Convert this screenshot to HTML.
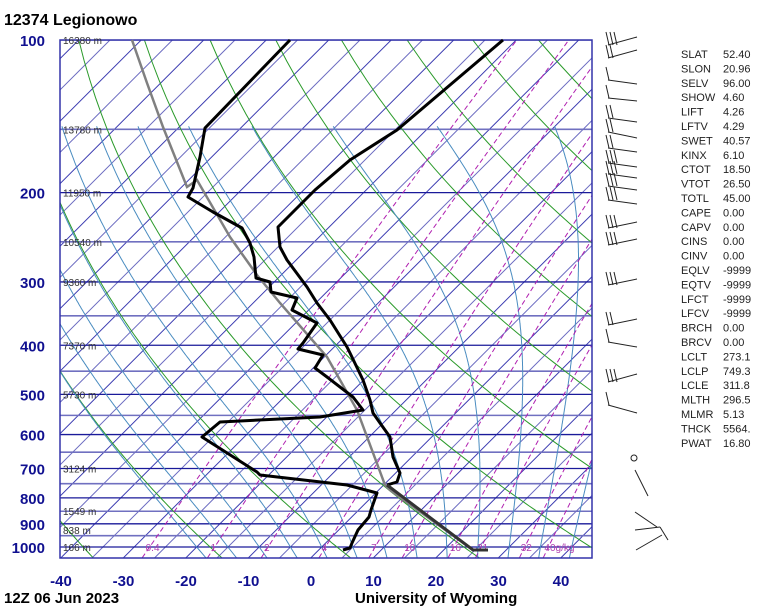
<!DOCTYPE html>
<html><head><meta charset="utf-8">
<style>
body{margin:0;background:#fff;width:768px;height:614px;overflow:hidden;font-family:"Liberation Sans",sans-serif}
svg{position:absolute;left:0;top:0}
</style></head>
<body>
<svg id="s" width="768" height="614" xmlns="http://www.w3.org/2000/svg">
<defs><clipPath id="c"><rect x="60" y="40" width="532" height="518"/></clipPath></defs>
<g id="grid" clip-path="url(#c)"></g>
<g id="fg"></g>
<text x="4" y="25" font-size="16" font-weight="bold" fill="#000">12374  Legionowo</text>
<text x="4" y="603" font-size="15" font-weight="bold" fill="#000">12Z 06 Jun 2023</text>
<text x="355" y="603" font-size="15" font-weight="bold" fill="#000">University of Wyoming</text>
</svg>
<script>
var NS="http://www.w3.org/2000/svg";
var g=document.getElementById('grid'),fg=document.getElementById('fg');
function el(p,tag,a,txt){var e=document.createElementNS(NS,tag);for(var k in a)e.setAttribute(k,a[k]);if(txt!==undefined)e.textContent=txt;p.appendChild(e);return e;}
function Y(p){return 40+220.2*Math.log(p/100);}
function X(T,p){return 311+6.25*T+(557.7-Y(p));}
function pl(par,pts,a){a.points=pts.map(function(q){return q[0].toFixed(1)+","+q[1].toFixed(1)}).join(" ");a.fill="none";return el(par,'polyline',a);}
// isotherms
for(var T=-160;T<=60;T+=5){var x0=311+6.25*T;el(g,'line',{x1:x0,y1:557.7,x2:x0+517.7,y2:40,stroke:(T%10==0?'#3a3ab0':'#6a6ac0'),'stroke-width':1});}
// pressure lines
var pls=[100,150,200,250,300,350,400,450,500,550,600,650,700,750,800,850,900,950,1000];
pls.forEach(function(p){var main=(p%100==0);el(g,'line',{x1:60,x2:592,y1:Y(p),y2:Y(p),stroke:main?'#1a1a9a':'#7070c0','stroke-width':main?1.3:1.6});});
// dry adiabats
for(var th=235;th<=520;th+=20.3){var pts=[];for(var p=1050;p>=100;p-=10){var Tk=th*Math.pow(p/1000,0.286);pts.push([X(Tk-273.15,p),Y(p)]);}pl(g,pts,{stroke:'#2a9a2a','stroke-width':1});}
// moist adiabats
function es(T){return 6.112*Math.exp(17.67*T/(T+243.5));}
function rate(T,p){var Tk=T+273.15,e=es(T),rs=0.622*e/(p-e);return (287*Tk+2.5e6*rs)/(p*(1004+2.5e6*2.5e6*rs*0.622/(287*Tk*Tk)));}
for(var T0=-20;T0<=40;T0+=5){var T=T0,pts=[[X(T,1000),Y(1000)]];
 for(var p=1000;p>=150;p-=2){T-=rate(T,p)*2;pts.push([X(T,p-2),Y(p-2)]);}
 pts.unshift([X(T0+rate(T0,1000)*50,1050),Y(1050)]);
 pl(g,pts,{stroke:'#4a8cc0','stroke-width':1});}
// mixing ratio
var ws=[0.4,1,2,4,7,10,16,21,32,40];
ws.forEach(function(w){var pts=[];for(var p=1050;p>=100;p-=25){var e=w*p/(622+w);var l=Math.log(e/6.112);var Td=243.5*l/(17.67-l);pts.push([X(Td,p),Y(p)]);}
 pl(g,pts,{stroke:'#b020b0','stroke-width':1,'stroke-dasharray':'5,3'});
 var e=w*1000/(622+w),l=Math.log(e/6.112),Td=243.5*l/(17.67-l);
 el(fg,'text',{x:X(Td,1000)-4,y:551,'font-size':10,fill:'#b040b0'},w==40?'40g/kg':String(w));});
// border
el(fg,'rect',{x:60,y:40,width:532,height:518,fill:'none',stroke:'#3333aa','stroke-width':1.5});
[100,200,300,400,500,600,700,800,900,1000].forEach(function(p){el(fg,'text',{x:45,y:Y(p)+6,'font-size':15,'font-weight':'bold',fill:'#101090','text-anchor':'end'},String(p));});
[[100,'16380 m'],[150,'13780 m'],[200,'11950 m'],[250,'10540 m'],[300,'9360 m'],[400,'7370 m'],[500,'5730 m'],[700,'3124 m'],[850,'1549 m'],[925,'838 m'],[1000,'166 m']].forEach(function(h){el(fg,'text',{x:63,y:Y(h[0])+4,'font-size':10,fill:'#333'},h[1]);});
for(var t=-40;t<=40;t+=10){el(fg,'text',{x:311+6.25*t,y:586,'font-size':15,'font-weight':'bold',fill:'#101090','text-anchor':'middle'},String(t));}
// parcel
pl(fg,[[132,40],[147,83],[163,127],[187,187],[197,180],[230,237],[257,275],[280,303],[327,357],[357,410],[385,485],[390,490],[473,550]],{stroke:'#808080','stroke-width':2.5});
// temperature
pl(fg,[[503,40],[450,85],[397,130],[350,160],[315,190],[280,225],[278,227],[280,247],[287,260],[307,287],[317,303],[330,320],[347,347],[350,353],[363,380],[370,400],[373,413],[380,423],[390,437],[393,457],[400,473],[397,482],[387,485]],{stroke:'#000','stroke-width':3,'stroke-linejoin':'round'});
pl(fg,[[387,485],[473,550],[488,550]],{stroke:'#333','stroke-width':3});
// dewpoint
pl(fg,[[290,40],[205,128],[200,157],[193,188],[188,197],[213,212],[242,228],[250,243],[254,257],[256,278],[270,282],[271,292],[297,298],[292,310],[317,323],[303,343],[298,349],[323,355],[315,368],[327,377],[353,397],[363,410],[320,417],[300,418],[220,422],[202,437],[257,472],[260,475],[347,485],[377,493],[371,510],[369,517],[358,530],[352,543],[350,548],[343,550]],{stroke:'#000','stroke-width':3,'stroke-linejoin':'round'});
// wind barbs
var bar=[[45,-8,3],[58,-8,2],[80,4,1],[98,3,1],[118,4,2],[132,6,2],[148,4,2],[163,4,3],[174,4,3],[186,4,3],[200,4,3],[228,-6,3],[245,-6,3],[285,-6,3],[325,-6,2],[342,5,1],[382,-8,3],[405,8,1]];
bar.forEach(function(b){var y=b[0];el(fg,'line',{x1:608,y1:y,x2:637,y2:y+b[1],stroke:'#222','stroke-width':1});
 for(var i=0;i<b[2];i++){el(fg,'line',{x1:609+i*4,y1:y,x2:606+i*4,y2:y-13,stroke:'#222','stroke-width':1});}});
el(fg,'circle',{cx:634,cy:458,r:3,fill:'none',stroke:'#222'});
el(fg,'line',{x1:635,y1:470,x2:648,y2:496,stroke:'#222'});
el(fg,'line',{x1:635,y1:512,x2:657,y2:527,stroke:'#222'});
el(fg,'line',{x1:635,y1:530,x2:660,y2:527,stroke:'#222'});
el(fg,'line',{x1:660,y1:527,x2:668,y2:540,stroke:'#222'});
el(fg,'line',{x1:636,y1:550,x2:662,y2:535,stroke:'#222'});
var idx=[["SLAT","52.40"],["SLON","20.96"],["SELV","96.00"],["SHOW","4.60"],["LIFT","4.26"],["LFTV","4.29"],["SWET","40.57"],["KINX","6.10"],["CTOT","18.50"],["VTOT","26.50"],["TOTL","45.00"],["CAPE","0.00"],["CAPV","0.00"],["CINS","0.00"],["CINV","0.00"],["EQLV","-9999"],["EQTV","-9999"],["LFCT","-9999"],["LFCV","-9999"],["BRCH","0.00"],["BRCV","0.00"],["LCLT","273.1"],["LCLP","749.3"],["LCLE","311.8"],["MLTH","296.5"],["MLMR","5.13"],["THCK","5564."],["PWAT","16.80"]];
idx.forEach(function(r,i){var y=58+i*14.4;el(fg,'text',{x:681,y:y,'font-size':11,fill:'#222'},r[0]);el(fg,'text',{x:723,y:y,'font-size':11,fill:'#222'},r[1]);});
</script>
</body></html>
